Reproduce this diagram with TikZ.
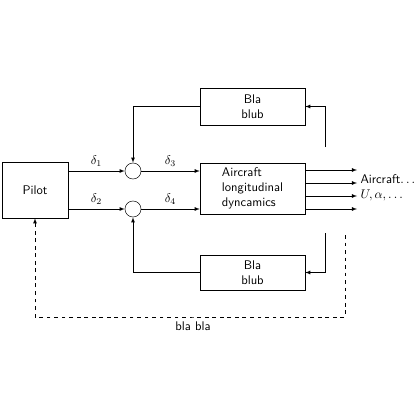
\documentclass[tikz,border=0pt]{standalone}
\usetikzlibrary{positioning}
\tikzset{
  block/.style={rectangle, draw=black, minimum width=2.94cm, minimum height=1.04cm, text centered, align=center, font=\sffamily},
  sumpoint/.style={circle, draw=black, minimum size=0.45cm, inner sep=0pt},
  signal/.style={->, >=latex},
}
\begin{document}
\begin{tikzpicture}[x=0.028cm, y=-0.028cm]
\useasboundingbox (0,0) rectangle (420,420);

% Nodes
\node (pilot) [block, minimum width=1.85cm, minimum height=1.57cm] at (35,190) {Pilot};
\node (aircraft) [block, minimum height=1.43cm, align=left] at (252.5,188.5) {Aircraft\\longitudinal\\dyncamics};
\node (blatop) [block] at (252.5,106.5) {Bla\\blub};
\node (blabot) [block, minimum height=0.98cm] at (252.5,272.5) {Bla\\blub};
\node (sumA) [sumpoint] at (133,171) {};
\node (sumB) [sumpoint] at (133,209) {};

% Coordinates
\coordinate (fbtop) at (325,147);
\coordinate (fbbot) at (325,233);
\coordinate (dashstart) at (345,235);
\coordinate (loopbot) at (193,317);

% Arrows
\draw [signal] (pilot.east |- sumA) -- node[above] {$\delta_1$} (sumA);
\draw [signal] (pilot.east |- sumB) -- node[above] {$\delta_2$} (sumB);
\draw [signal] (sumA) -- node[above] {$\delta_3$} (aircraft.west |- sumA);
\draw [signal] (sumB) -- node[above] {$\delta_4$} (aircraft.west |- sumB);

% Outputs
\foreach \i/\y in {1/170,2/183,3/196,4/209} {
  \coordinate (out\i) at (357,\y);
  \draw [signal] (aircraft.east |- out\i) -- (out\i);
}
\node (outlabel) [anchor=west, align=left, font=\sffamily, inner sep=1pt] at (359,188) {Aircraft$\dots$\\$U,\alpha,\dots$};

% Feedback
\draw [signal] (fbtop) |- (blatop.east);
\draw [signal] (blatop.west) -| (sumA.north);
\draw [signal] (fbbot) |- (blabot.east);
\draw [signal] (blabot.west) -| (sumB.south);
\draw [signal, dashed] (dashstart) |- (loopbot) -| (pilot.south);
\node (blabla) [below, font=\sffamily] at (loopbot) {bla bla};

\end{tikzpicture}
\end{document}
